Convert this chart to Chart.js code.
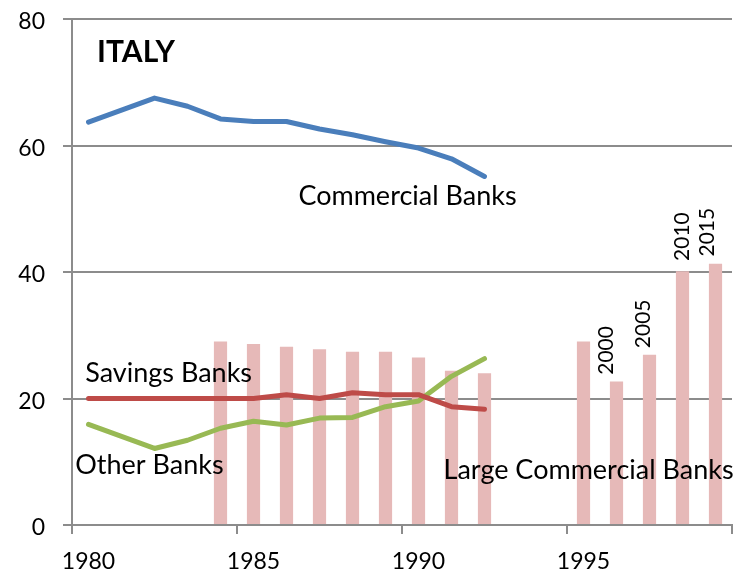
<!DOCTYPE html>
<html>
<head>
<meta charset="utf-8">
<script src="https://cdn.jsdelivr.net/npm/chart.js@4.4.1/dist/chart.umd.min.js"></script>
<style>
  html, body { margin: 0; padding: 0; background: #fff; }
  #wrap { width: 747px; height: 575px; position: relative; }
</style>
</head>
<body>
<div id="wrap"><canvas id="c"></canvas></div>
<script>
// ---- data ----
const years = ['1980','1981','1982','1983','1984','1985','1986','1987','1988','1989',
               '1990','1991','1992','1993','1994','1995','1996','1997','1998','1999'];
const commercialBanks = [63.7, 65.6, 67.5, 66.2, 64.2, 63.8, 63.8, 62.6, 61.7, 60.6, 59.6, 57.9, 55.1];
const savingsBanks    = [20.0, 20.0, 20.0, 20.0, 20.0, 20.0, 20.6, 20.0, 20.9, 20.6, 20.6, 18.7, 18.3];
const otherBanks      = [15.9, 14.0, 12.1, 13.4, 15.3, 16.4, 15.8, 16.9, 17.0, 18.7, 19.6, 23.5, 26.3];
const largeCommercialBanks = [null, null, null, null, 29.0, 28.6, 28.2, 27.8, 27.4, 27.4, 26.5, 24.4, 24.0,
                              null, null, 29.0, 22.7, 26.9, 40.1, 41.3];
const yTicks = [0, 20, 40, 60, 80];
const barYearLabels = ['2000', '2005', '2010', '2015'];

// ---- styles ----
const GRAY = '#8c8c8c';
const FONT = 'Lato, "Open Sans", sans-serif';

// text annotations placed in data coordinates (category index, value)
const notes = [
  { text: 'ITALY', x: 0.26, y: 73.2, size: 30, bold: true },
  { text: 'Commercial Banks', x: 6.36, y: 50.6, size: 27 },
  { text: 'Savings Banks', x: -0.1, y: 22.6, size: 27 },
  { text: 'Other Banks', x: -0.4, y: 8.1, size: 27 },
  { text: 'Large Commercial Banks', x: 10.76, y: 7.3, size: 27 },
  { text: barYearLabels[0], x: 15.7, y: 27.6, size: 21, rotate: true },
  { text: barYearLabels[1], x: 16.81, y: 31.8, size: 21, rotate: true },
  { text: barYearLabels[2], x: 17.99, y: 45.6, size: 21, rotate: true },
  { text: barYearLabels[3], x: 18.75, y: 46.3, size: 21, rotate: true }
];

const notesPlugin = {
  id: 'notes',
  afterDatasetsDraw(chart) {
    const ctx = chart.ctx, xs = chart.scales.x, ys = chart.scales.y;
    ctx.save();
    ctx.fillStyle = '#000';
    notes.forEach(n => {
      const px = xs.getPixelForValue(n.x);
      const py = ys.getPixelForValue(n.y);
      ctx.font = (n.bold ? 'bold ' : '') + n.size + 'px ' + FONT;
      if (n.rotate) {
        ctx.save();
        ctx.translate(px, py);
        ctx.rotate(-Math.PI / 2);
        ctx.textAlign = 'center';
        ctx.textBaseline = 'middle';
        ctx.fillText(n.text, 0, 0);
        ctx.restore();
      } else {
        ctx.textAlign = 'left';
        ctx.textBaseline = 'alphabetic';
        ctx.fillText(n.text, px, py);
      }
    });
    ctx.restore();
  }
};

const lineStyle = (color) => ({
  type: 'line',
  borderColor: color,
  backgroundColor: color,
  borderWidth: 5,
  borderCapStyle: 'round',
  borderJoinStyle: 'round',
  pointRadius: 0,
  tension: 0,
  fill: false,
  order: 1
});

new Chart(document.getElementById('c'), {
  data: {
    labels: years,
    datasets: [
      Object.assign({ label: 'Commercial Banks', data: commercialBanks }, lineStyle('#4A7EBB')),
      Object.assign({ label: 'Savings Banks', data: savingsBanks }, lineStyle('#BE4B48')),
      Object.assign({ label: 'Other Banks', data: otherBanks }, lineStyle('#98B954')),
      {
        type: 'bar',
        label: 'Large Commercial Banks',
        data: largeCommercialBanks,
        backgroundColor: '#E6B9B8',
        borderWidth: 0,
        barPercentage: 0.4,
        categoryPercentage: 1.0,
        order: 2
      }
    ]
  },
  options: {
    responsive: true,
    maintainAspectRatio: false,
    animation: false,
    devicePixelRatio: 1,
    layout: { padding: { top: 19, right: 15, left: 0, bottom: 0 } },
    plugins: { legend: { display: false }, tooltip: { enabled: false } },
    scales: {
      x: {
        type: 'category',
        offset: true,
        afterFit: s => { s.height = 50; s.paddingLeft = 0; s.paddingRight = 0; },
        grid: {
          offset: true,
          drawOnChartArea: false,
          drawTicks: true,
          tickLength: 9,
          lineWidth: 2,
          color: c => (c.type !== 'tick' || c.index % 5 === 0) ? GRAY : 'rgba(0,0,0,0)'
        },
        border: { display: true, color: GRAY, width: 2 },
        ticks: {
          autoSkip: false,
          maxRotation: 0,
          minRotation: 0,
          padding: 14,
          color: '#000',
          font: { family: FONT, size: 23 },
          callback: (v, i) => (i % 5 === 0 ? years[i] : '')
        }
      },
      y: {
        min: yTicks[0],
        max: yTicks[yTicks.length - 1],
        afterFit: s => { s.width = 72; s.paddingTop = 0; s.paddingBottom = 0; },
        afterBuildTicks: s => { s.ticks = yTicks.map(v => ({ value: v })); },
        grid: { color: GRAY, lineWidth: 2, drawTicks: true, tickLength: 9 },
        border: { display: true, color: GRAY, width: 2 },
        ticks: {
          padding: 18,
          labelOffset: 3,
          color: '#000',
          font: { family: FONT, size: 23 }
        }
      }
    }
  },
  plugins: [notesPlugin]
});
</script>
</body>
</html>
